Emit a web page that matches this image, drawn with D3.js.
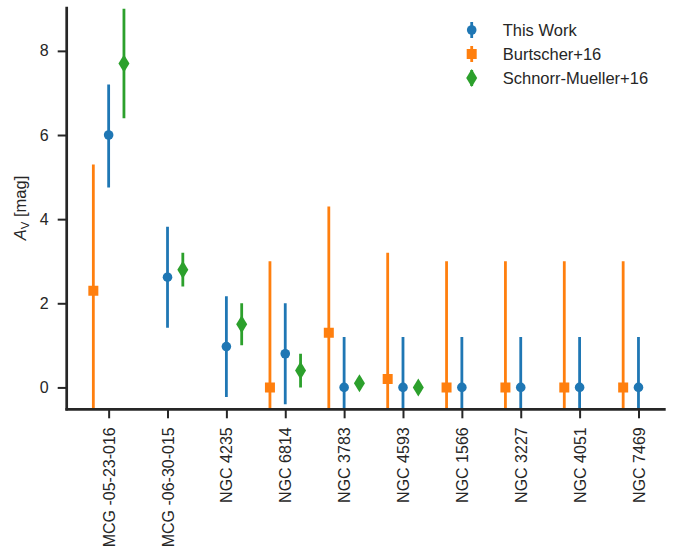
<!DOCTYPE html>
<html>
<head>
<meta charset="utf-8">
<script src="https://cdn.jsdelivr.net/npm/d3@7"></script>
<style>
  html, body { margin: 0; padding: 0; background: #fff; }
  svg { display: block; }
  text { font-family: "Liberation Sans", Arial, sans-serif; fill: #262626; }
</style>
</head>
<body>
<svg id="chart" width="678" height="556"></svg>
<script>
// Galaxy names along the x axis
const galaxies = ["MCG -05-23-016", "MCG -06-30-015", "NGC 4235", "NGC 6814", "NGC 3783",
                  "NGC 4593", "NGC 1566", "NGC 3227", "NGC 4051", "NGC 7469"];

// This Work: A_V with lower / upper errors
const thisWork    = [6.0, 2.62, 0.97, 0.8, 0.0, 0.0, 0.0, 0.0, 0.0, 0.0];
const thisWorkLo  = [1.25, 1.2, 1.2, 1.2, 1.2, 1.2, 1.2, 1.2, 1.2, 1.2];
const thisWorkHi  = [1.2, 1.2, 1.2, 1.2, 1.2, 1.2, 1.2, 1.2, 1.2, 1.2];

// Burtscher+16 (null = no measurement)
const burtscher    = [2.3, null, null, 0.0, 1.3, 0.2, 0.0, 0.0, 0.0, 0.0];
const burtscherErr = [3.0, null, null, 3.0, 3.0, 3.0, 3.0, 3.0, 3.0, 3.0];

// Schnorr-Mueller+16
const schnorr    = [7.7, 2.8, 1.5, 0.4, 0.1, 0.0, null, null, null, null];
const schnorrErr = [1.3, 0.4, 0.5, 0.4, 0.15, 0.1, null, null, null, null];

const yTicks = [0, 2, 4, 6, 8];

const colors = { work: "#1f77b4", burt: "#ff7f0e", schn: "#2ca02c" };
const ink = "#262626";

const svg = d3.select("#chart");
const box = { left: 66.7, right: 665.7, top: 6.7, bottom: 409.3 };

const x = d3.scaleLinear().domain([-0.7125, 9.4625]).range([box.left, box.right]);
const y = d3.scaleLinear().domain([-0.52, 9.05]).range([box.bottom, box.top]);
const offset = 0.26;

svg.append("defs").append("clipPath").attr("id", "plotArea")
  .append("rect").attr("x", box.left).attr("y", box.top)
  .attr("width", box.right - box.left).attr("height", box.bottom - box.top);

const plot = svg.append("g").attr("clip-path", "url(#plotArea)");

function series(values, lo, hi, dx, color, shape) {
  const pts = values.map((v, i) => ({ i, v, lo: lo[i], hi: hi[i] })).filter(d => d.v !== null);
  const g = plot.append("g");
  g.selectAll("line").data(pts).join("line")
    .attr("x1", d => x(d.i + dx)).attr("x2", d => x(d.i + dx))
    .attr("y1", d => y(d.v - d.lo)).attr("y2", d => y(d.v + d.hi))
    .attr("stroke", color).attr("stroke-width", 2.8);
  g.selectAll("path").data(pts).join("path")
    .attr("transform", d => `translate(${x(d.i + dx)},${y(d.v)})`)
    .attr("d", shape).attr("fill", color);
}

const circle = d3.symbol().type(d3.symbolCircle).size(Math.PI * 4.8 * 4.8)();
const square = "M-5,-5H5V5H-5Z";
const diamond = "M0,-9L5.5,0L0,9L-5.5,0Z";

series(burtscher, burtscherErr, burtscherErr, -offset, colors.burt, square);
series(thisWork, thisWorkLo, thisWorkHi, 0, colors.work, circle);
series(schnorr, schnorrErr, schnorrErr, offset, colors.schn, diamond);

// Axes
const xAxis = svg.append("g").attr("transform", `translate(0,${box.bottom})`)
  .call(d3.axisBottom(x).tickValues(d3.range(galaxies.length))
    .tickFormat(i => galaxies[i]).tickSize(9).tickPadding(10));
xAxis.select(".domain").remove();
xAxis.selectAll(".tick line").attr("stroke", ink).attr("stroke-width", 2);
xAxis.selectAll(".tick text")
  .attr("transform", "rotate(-90)")
  .attr("text-anchor", "end")
  .attr("x", -18).attr("y", 0).attr("dy", "0.35em")
  .style("font-size", "16px").style("fill", ink);

const yAxis = svg.append("g").attr("transform", `translate(${box.left},0)`)
  .call(d3.axisLeft(y).tickValues(yTicks).tickSize(9).tickPadding(9));
yAxis.select(".domain").remove();
yAxis.selectAll(".tick line").attr("stroke", ink).attr("stroke-width", 2);
yAxis.selectAll(".tick text").style("font-size", "16px").style("fill", ink);

// Spines
svg.append("line").attr("x1", box.left).attr("x2", box.left).attr("y1", box.top).attr("y2", box.bottom + 1.3)
  .attr("stroke", ink).attr("stroke-width", 2.7);
svg.append("line").attr("x1", box.left - 1.3).attr("x2", box.right).attr("y1", box.bottom).attr("y2", box.bottom)
  .attr("stroke", ink).attr("stroke-width", 2.7);

// Y label
const yl = svg.append("text")
  .attr("transform", `translate(26,${(box.top + box.bottom) / 2}) rotate(-90)`)
  .attr("text-anchor", "middle").style("font-size", "16.5px");
yl.append("tspan").text("A").style("font-style", "italic");
yl.append("tspan").text("V").attr("dy", 3).style("font-size", "11.5px");
yl.append("tspan").text(" [mag]").attr("dy", -3);

// Legend
const legendItems = [
  { label: "This Work", color: colors.work, shape: circle },
  { label: "Burtscher+16", color: colors.burt, shape: square },
  { label: "Schnorr-Mueller+16", color: colors.schn, shape: diamond }
];
const lg = svg.append("g").selectAll("g").data(legendItems).join("g")
  .attr("transform", (d, i) => `translate(471.7,${30 + i * 24})`);
lg.append("line").attr("y1", -8).attr("y2", 8).attr("stroke", d => d.color).attr("stroke-width", 2.8);
lg.append("path").attr("d", d => d.shape).attr("fill", d => d.color);
lg.append("text").attr("x", 31).attr("dy", "0.35em").style("font-size", "16.5px").text(d => d.label);
</script>
</body>
</html>
